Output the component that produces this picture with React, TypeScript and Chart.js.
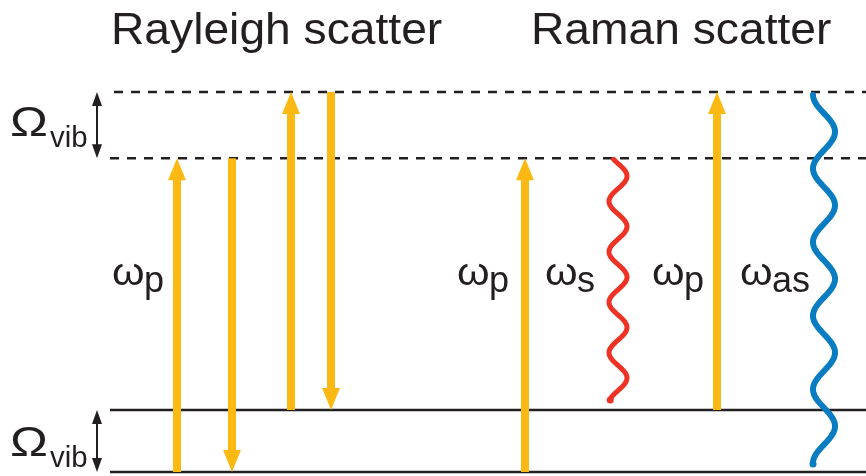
import { useEffect, useRef } from "react";
import { Chart, registerables } from "chart.js";

Chart.register(...registerables);

// ---------------- data ----------------
// energy levels, in units of the vibrational quantum Ω_vib
const levelNames = ["ground", "vibrational (v=1)", "virtual", "virtual (from v=1)"];
const levelEnergies = [0, 1, 5.06, 6.13];
const levelDashed = [false, false, true, true];
const levelXStart = [110, 110, 110, 114];
const levelXEnd = [866, 866, 866, 866];

// transitions (x = horizontal position in diagram units, from/to = level index)
const transitionNames = [
  "pump (Rayleigh, v=0)",
  "scattered (Rayleigh, v=0)",
  "pump (Rayleigh, v=1)",
  "scattered (Rayleigh, v=1)",
  "pump (Stokes)",
  "Stokes",
  "pump (anti-Stokes)",
  "anti-Stokes",
];
const transitionX = [177, 232, 291, 331, 525, 618, 717, 824];
const transitionFrom = [0, 2, 1, 3, 0, 2, 1, 3];
const transitionTo = [2, 0, 3, 1, 2, 1, 3, 0];
const transitionKind = ["arrow", "arrow", "arrow", "arrow", "arrow", "wave", "arrow", "wave"];
const transitionSub = ["p", "", "", "", "p", "s", "p", "as"];

// Ω_vib spacing markers
const omegaX = [97, 97];
const omegaFrom = [2, 0];
const omegaTo = [3, 1];

const titles = ["Rayleigh scatter", "Raman scatter"];

// ---------------- styles ----------------
const W = 866;
const H = 476;
const INK = "#231f20";
const ORANGE = "#fdb913";
const RED = "#ee3224";
const BLUE = "#0a7cc2";
const FONT = '"Liberation Sans", Arial, Helvetica, sans-serif';
const HS = 1.05; // slight horizontal text stretch of the original figure

function drawText(ctx: CanvasRenderingContext2D, s: string, x: number, y: number, size: number, hs = HS) {
  ctx.save();
  ctx.translate(x, y);
  ctx.scale(hs, 1);
  ctx.font = `${size}px ${FONT}`;
  ctx.fillStyle = INK;
  ctx.textAlign = "left";
  ctx.textBaseline = "alphabetic";
  ctx.fillText(s, 0, 0);
  ctx.restore();
}

function drawArrow(
  ctx: CanvasRenderingContext2D,
  x: number,
  y0: number,
  y1: number,
  color: string,
  shaft: number,
  headW: number,
  headL: number,
  both = false
) {
  const dir = Math.sign(y1 - y0) || 1;
  ctx.save();
  ctx.fillStyle = color;
  const sStart = both ? y0 + dir * (headL - 1) : y0;
  const sEnd = y1 - dir * (headL - 1);
  ctx.fillRect(x - shaft / 2, Math.min(sStart, sEnd), shaft, Math.abs(sEnd - sStart));
  const head = (tip: number, d: number) => {
    ctx.beginPath();
    ctx.moveTo(x, tip);
    ctx.lineTo(x - headW / 2, tip - d * headL);
    ctx.lineTo(x + headW / 2, tip - d * headL);
    ctx.closePath();
    ctx.fill();
  };
  head(y1, dir);
  if (both) head(y0, -dir);
  ctx.restore();
}

function drawWave(
  ctx: CanvasRenderingContext2D,
  cx: number,
  y0: number,
  y1: number,
  color: string,
  amp: number,
  cycles: number,
  phase0: number,
  width: number,
  dotR: number
) {
  ctx.save();
  ctx.strokeStyle = color;
  ctx.fillStyle = color;
  ctx.lineWidth = width;
  ctx.lineCap = "round";
  ctx.lineJoin = "round";
  ctx.beginPath();
  const n = 300;
  let lx = 0;
  let ly = 0;
  for (let i = 0; i <= n; i++) {
    const t = i / n;
    const y = y0 + (y1 - y0) * t;
    const x = cx + amp * Math.sin(phase0 + 2 * Math.PI * cycles * t);
    if (i === 0) ctx.moveTo(x, y);
    else ctx.lineTo(x, y);
    lx = x;
    ly = y;
  }
  ctx.stroke();
  ctx.beginPath();
  ctx.arc(lx, ly + 1, dotR, 0, Math.PI * 2);
  ctx.fill();
  ctx.restore();
}

const diagramPlugin = {
  id: "diagram",
  afterDatasetsDraw(chart: any) {
    const ctx: CanvasRenderingContext2D = chart.ctx;
    chart.data.datasets.forEach((ds: any, i: number) => {
      if (!ds.kind || ds.kind === "level") return;
      const meta = chart.getDatasetMeta(i);
      const p0 = meta.data[0];
      const p1 = meta.data[1];
      if (!p0 || !p1) return;
      if (ds.kind === "arrow") {
        drawArrow(ctx, p0.x, p0.y, p1.y, ORANGE, 8, 18, 22);
      } else if (ds.kind === "omega") {
        drawArrow(ctx, p0.x, p0.y, p1.y, INK, 2, 10, 14, true);
      } else if (ds.kind === "wave") {
        if (ds.label === "Stokes") {
          drawWave(ctx, p0.x, p0.y + 1, p1.y - 11, RED, 9, 4.75, -Math.PI / 6, 5, 3.5);
        } else {
          drawWave(ctx, p0.x, p0.y + 3, p1.y - 9, BLUE, 11, 5, -Math.PI / 2, 6, 3.5);
        }
      }
    });

    // titles
    drawText(ctx, titles[0], 111, 44, 44);
    drawText(ctx, titles[1], 531, 44, 44);

    // Ω_vib labels
    const omegaLabelY = [136, 456];
    omegaLabelY.forEach((y) => {
      drawText(ctx, "Ω", 10, y, 43, 1.18);
      drawText(ctx, "vib", 50, y + 11, 30, 0.98);
    });

    // ω labels
    const wLabelX = [112, 0, 0, 0, 457, 545, 652, 740];
    transitionSub.forEach((sub, i) => {
      if (!sub) return;
      const x = wLabelX[i];
      drawText(ctx, "ω", x, 285, 38, 1.1);
      drawText(ctx, sub, x + 32, 292, 36, 1.0);
    });
  },
};

export default function App() {
  const ref = useRef<HTMLCanvasElement>(null);

  useEffect(() => {
    document.body.style.margin = "0";
    const canvas = ref.current;
    if (!canvas) return;

    const datasets: any[] = [];
    levelEnergies.forEach((e, i) => {
      datasets.push({
        label: levelNames[i],
        kind: "level",
        data: [
          { x: levelXStart[i], y: e },
          { x: levelXEnd[i], y: e },
        ],
        borderColor: INK,
        borderWidth: 2.5,
        borderDash: levelDashed[i] ? [9, 8] : [],
        pointRadius: 0,
        fill: false,
      });
    });
    transitionX.forEach((x, i) => {
      datasets.push({
        label: transitionNames[i],
        kind: transitionKind[i],
        data: [
          { x, y: levelEnergies[transitionFrom[i]] },
          { x, y: levelEnergies[transitionTo[i]] },
        ],
        showLine: false,
        pointRadius: 0,
      });
    });
    omegaX.forEach((x, i) => {
      datasets.push({
        label: "Ω_vib",
        kind: "omega",
        data: [
          { x, y: levelEnergies[omegaFrom[i]] },
          { x, y: levelEnergies[omegaTo[i]] },
        ],
        showLine: false,
        pointRadius: 0,
      });
    });

    const chart = new Chart(canvas, {
      type: "line",
      data: { datasets },
      options: {
        animation: false,
        responsive: false,
        maintainAspectRatio: false,
        layout: { padding: 0 },
        events: [],
        plugins: { legend: { display: false }, tooltip: { enabled: false }, title: { display: false } },
        scales: {
          x: { type: "linear", min: 0, max: W, display: false },
          y: { type: "linear", min: -0.0645, max: 7.613, display: false },
        },
      },
      plugins: [diagramPlugin],
    } as any);

    return () => chart.destroy();
  }, []);

  return (
    <div style={{ position: "absolute", left: 0, top: 0, width: W, height: H, background: "#fff" }}>
      <canvas ref={ref} width={W} height={H} style={{ display: "block", width: W, height: H }} />
    </div>
  );
}
